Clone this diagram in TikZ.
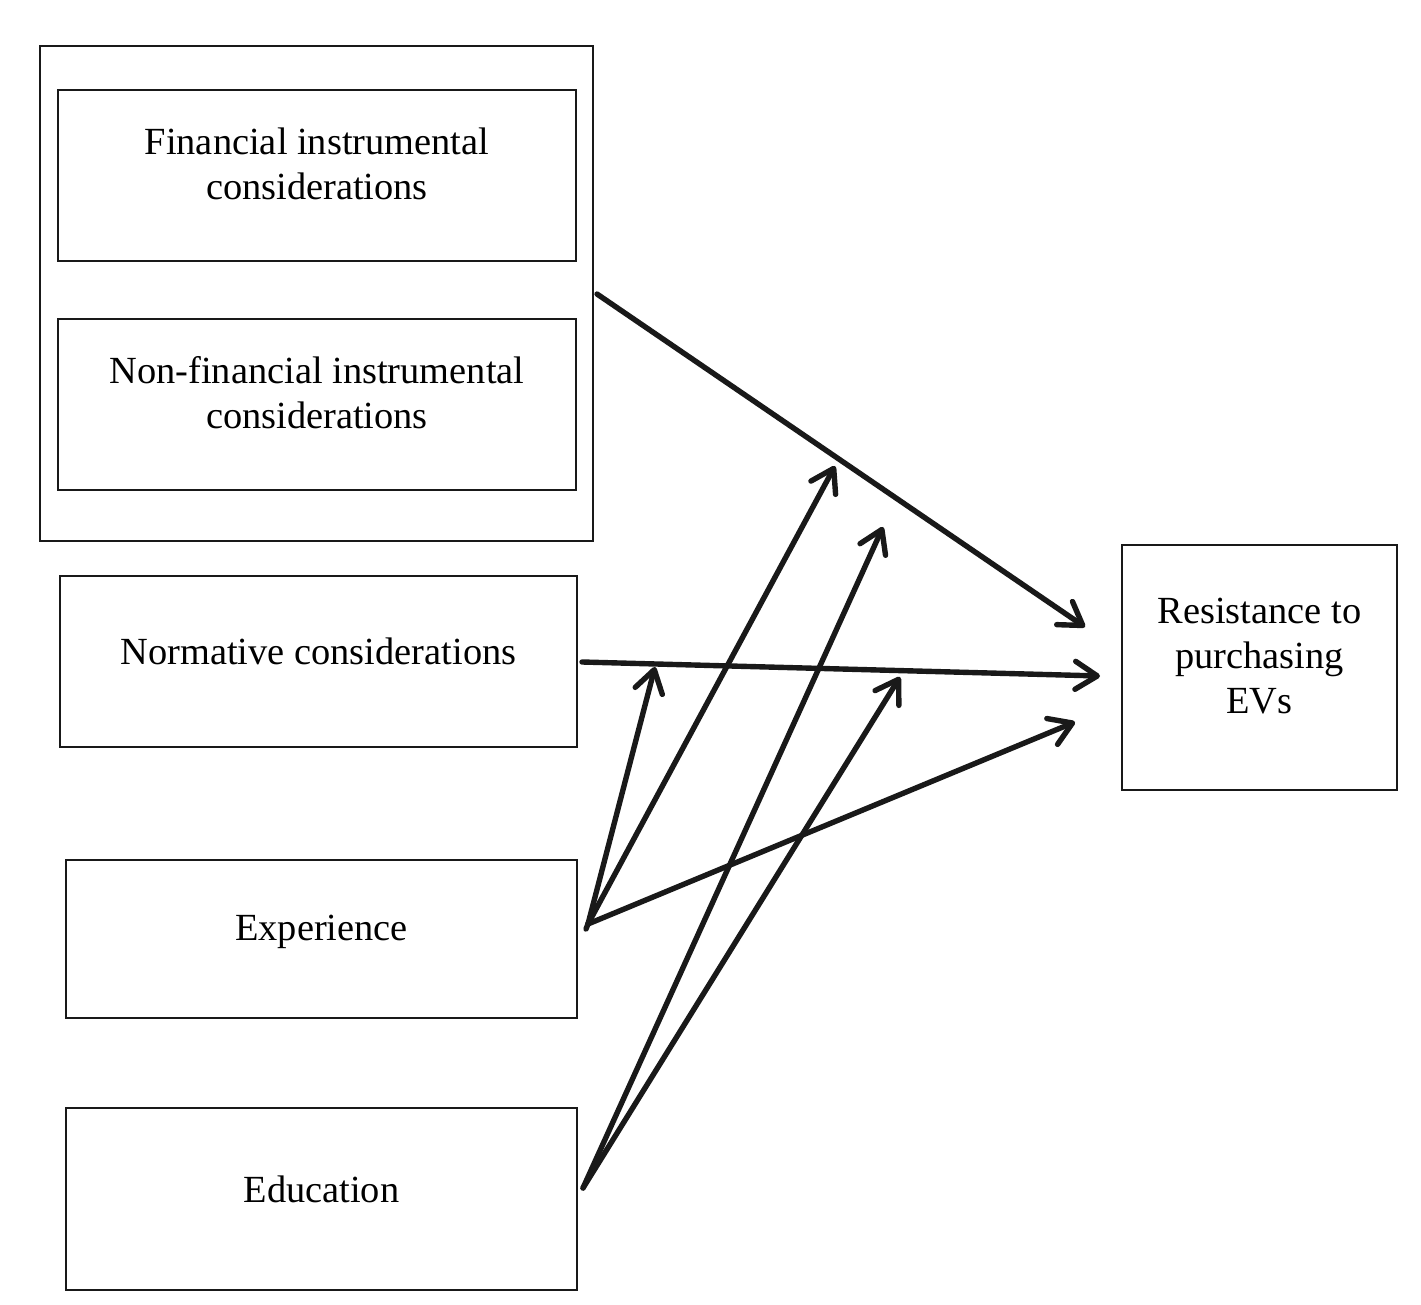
\documentclass[tikz,border=0pt]{standalone}
\usepackage{fontspec}
\setmainfont{Liberation Serif}
\usetikzlibrary{arrows.meta}
\begin{document}
\begin{tikzpicture}[x=0.5pt,y=-0.5pt,
  box/.style={draw=black!90,line width=1.1pt,rectangle,inner sep=0pt},
  lbl/.style={align=center,font=\fontsize{19.2}{22.5}\selectfont,inner sep=0pt},
  arr/.style={line width=2.7pt,draw=black!90,line cap=round,
    -{Straight Barb[length=11pt,width=14pt,round,line width=2.7pt]}},
  ln/.style={line width=2.7pt,draw=black!90,line cap=round}]
\useasboundingbox (0,0) rectangle (1421,1305);
% boxes
\node[box,minimum width=276.5pt,minimum height=247.5pt] (outer) at (316.5,293.5) {};
\node[box,minimum width=259pt,minimum height=85.5pt] (fin) at (317,175.5) {};
\node[box,minimum width=259pt,minimum height=85.5pt] (nonfin) at (317,404.5) {};
\node[box,minimum width=258.5pt,minimum height=85.5pt] (norm) at (318.5,661.5) {};
\node[box,minimum width=255.5pt,minimum height=79pt] (exp) at (321.5,939) {};
\node[box,minimum width=255.5pt,minimum height=91pt] (edu) at (321.5,1199) {};
\node[box,minimum width=137.5pt,minimum height=122.5pt] (res) at (1259.5,667.5) {};
% texts
\node[lbl] (tfin) at (317,164) {Financial instrumental\\considerations};
\node[lbl] (tnonfin) at (317,393) {Non-financial instrumental\\considerations};
\node[lbl] (tnorm) at (318.5,651) {Normative considerations};
\node[lbl] (texp) at (321.5,932) {Experience};
\node[lbl] (tedu) at (321.5,1189) {Education};
\node[lbl] (tres) at (1259.5,656) {Resistance to\\purchasing\\EVs};
% connector points
\coordinate (a1s) at (597,294);
\coordinate (a1e) at (1085,627);
\coordinate (a2s) at (582,662);
\coordinate (a2e) at (1100,676);
\coordinate (exo) at (588,924);
\coordinate (exb) at (586,929);
\coordinate (edo) at (583,1188);
\coordinate (m1) at (835,466);
\coordinate (m2) at (655,667);
\coordinate (m3) at (1075,722);
\coordinate (m4) at (883,527);
\coordinate (m5) at (900,677);
% main arrows
\draw[arr] (a1s) -- (a1e);
\draw[arr] (a2s) -- (a2e);
% experience
\draw[ln] (exb) -- (exo);
\draw[arr] (exo) -- (m2);
\draw[arr] (exo) -- (m1);
\draw[arr] (exo) -- (m3);
% education
\draw[arr] (edo) -- (m4);
\draw[arr] (edo) -- (m5);
\end{tikzpicture}
\end{document}
